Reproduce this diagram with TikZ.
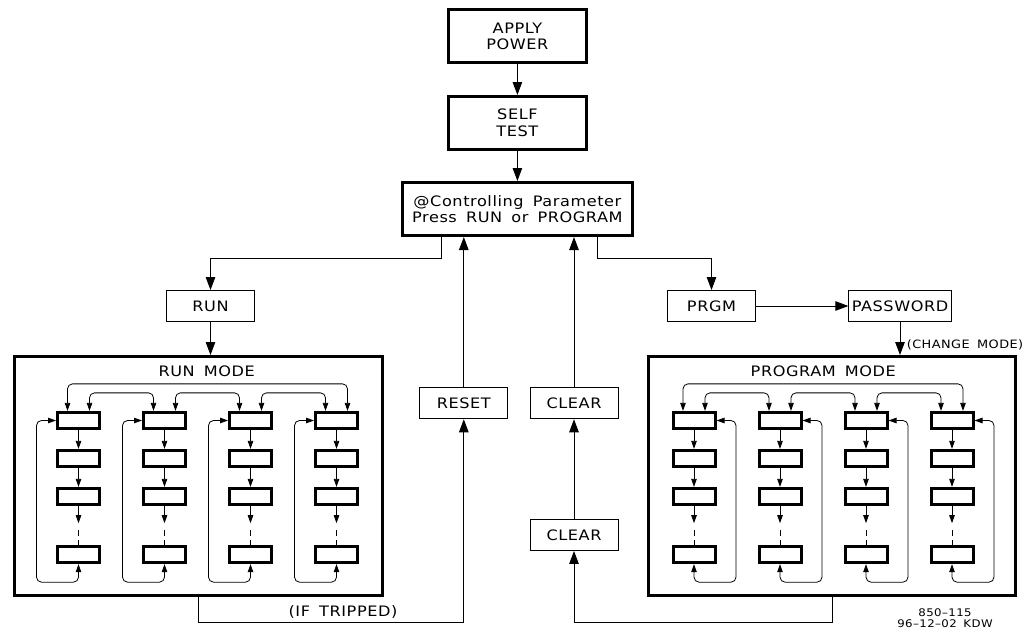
\documentclass[tikz,border=0pt]{standalone}
\usepackage{fontspec}
\setmainfont{DejaVu Sans}[FakeStretch=1.12,LetterSpace=4,WordSpace=1.6]
\usetikzlibrary{arrows.meta}
\tikzset{
  bigbox/.style={draw,line width=3pt,minimum width=138pt,minimum height=53pt,align=center,inner sep=2pt},
  keybox/.style={draw,line width=0.9pt,minimum width=88pt,minimum height=31pt,inner sep=1pt},
  modebox/.style={draw,line width=3pt,minimum width=367.7pt,minimum height=238.7pt},
  cell/.style={draw,line width=3pt,minimum width=42pt,minimum height=16.3pt,inner sep=0pt},
  bigarr/.style={line width=0.9pt,>={Triangle[length=13pt,width=9.5pt]},->},
  smallarr/.style={line width=0.8pt,>={Triangle[length=8pt,width=5.5pt]},->},
  dblarr/.style={line width=0.8pt,>={Triangle[length=8pt,width=5.5pt]},<->,rounded corners=5pt},
  dashline/.style={line width=0.8pt,dash pattern=on 6pt off 4pt},
}
\begin{document}
\begin{tikzpicture}[x=1pt,y=-1pt,font=\fontsize{14.4}{16.6}\selectfont]
\useasboundingbox (0,0) rectangle (1035,634);
% start up
\node[bigbox] (apply) at (517.4,36.2) {APPLY\\POWER};
\node[bigbox] (selftest) at (517.4,123) {SELF\\TEST};
\node[bigbox,minimum width=230.3pt] (ctrl) at (517.4,209) {@Controlling Parameter\\Press RUN or PROGRAM};
\draw[bigarr](apply)--(selftest);
\draw[bigarr](selftest)--(ctrl);
% keys
\node[keybox] (run) at (210.5,306) {RUN};
\node[keybox] (prgm) at (711.5,306) {PRGM};
\node[keybox,minimum width=102.4pt] (pass) at (900,306) {PASSWORD};
\node[keybox] (reset) at (463.8,403.3) {RESET};
\node[keybox] (clra) at (574,403.3) {CLEAR};
\node[keybox] (clrb) at (574,535) {CLEAR};
% modes
\node[modebox] (runmode) at (198.7,475.9) {};
\node[modebox] (prgmode) at (832,475.9) {};
\node (runlbl) at (206.7,371) {RUN MODE};
\node (prglbl) at (823.3,371) {PROGRAM MODE};
\draw[bigarr]([xshift=40.5pt]ctrl.south west)--++(0,21.5)-|(run.north);
\draw[bigarr]([xshift=-36.8pt]ctrl.south east)--++(0,21.5)-|(prgm.north);
\draw[bigarr](run.south)--(run.south |- runmode.north);
\draw[bigarr](prgm)--(pass);
\draw[bigarr](pass.south)--(pass.south |- prgmode.north)
  node (chg)[pos=0.7,right=3pt,font=\fontsize{11.5}{13}\selectfont]{(CHANGE MODE)};
\draw[bigarr](reset)--(reset.north |- ctrl.south);
\draw[bigarr](clra)--(clra.north |- ctrl.south);
\draw[bigarr](clrb)--(clra);
\draw[bigarr](runmode.south)--++(0,26)-|(reset.south);
\draw[bigarr](prgmode.south)--++(0,26)-|(clrb.south);
\node (trip) at (343,612) {(IF TRIPPED)};
% the four columns of each mode
\foreach \m/\ox/\sd/\an in {rc/78.5/-42/west,pc/694/42/east}{
  \foreach \i in {1,...,4}{
    \foreach \r [count=\j] in {420.5,458.5,496.5,554.5}
      \node[cell] (\m-\i-\j) at (\ox+86*\i-86,\r) {};
    \draw[smallarr](\m-\i-1)--(\m-\i-2);
    \draw[smallarr](\m-\i-2)--(\m-\i-3);
    \draw[smallarr](\m-\i-3.south)--++(0,17);
    \draw[dashline](\m-\i-3.south)++(0,24)--(\m-\i-4.north);
    \draw[dblarr](\m-\i-4.south)|-++(\sd,18)|-(\m-\i-1.\an);
  }
  \draw[dblarr]([xshift=-11pt]\m-1-1.north)--++(0,-27)-|([xshift=11pt]\m-4-1.north);
  \foreach \i/\k in {1/2,2/3,3/4}
    \draw[dblarr]([xshift=11pt]\m-\i-1.north)--++(0,-18)-|([xshift=-11pt]\m-\k-1.north);
}
\node[align=center,font=\fontsize{10.5}{10.5}\selectfont] (dwgno) at (945,618) {850–115\\96–12–02 KDW};
\end{tikzpicture}
\end{document}
